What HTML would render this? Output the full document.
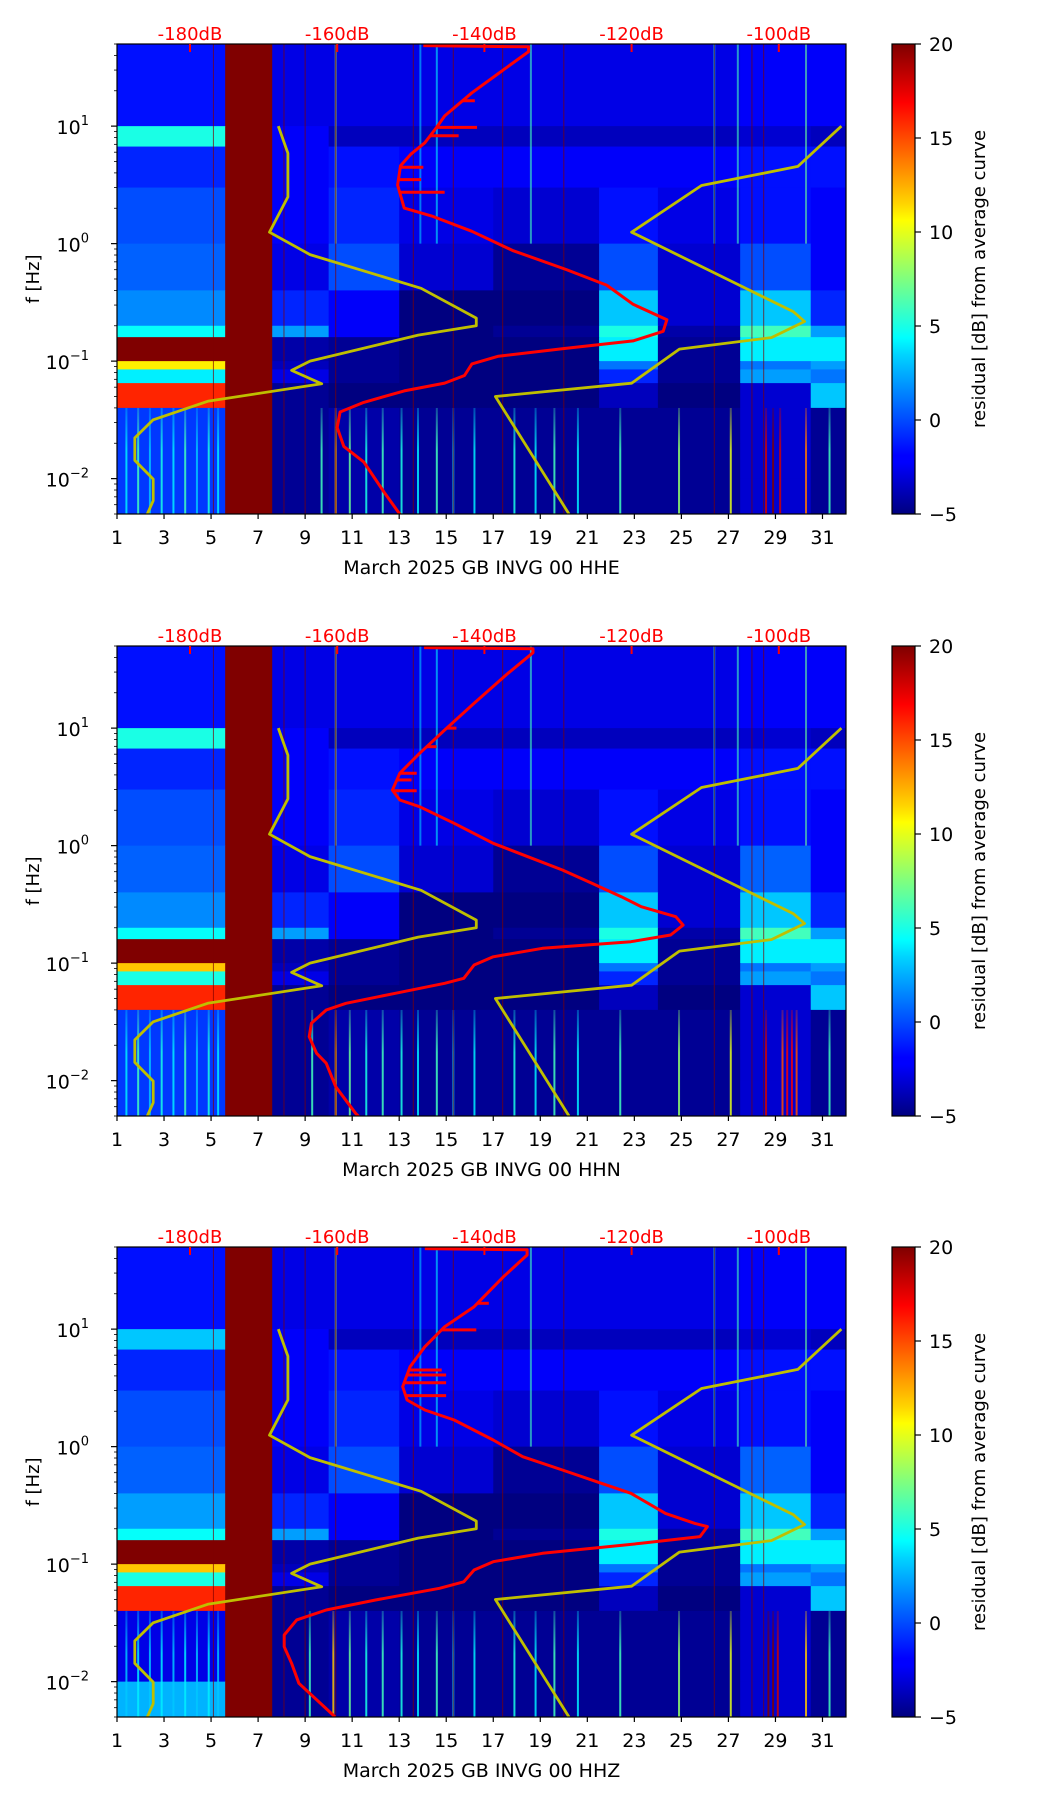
<!DOCTYPE html>
<html><head><meta charset="utf-8"><style>
html,body{margin:0;padding:0;background:#fff;}
svg text{font-family:"DejaVu Sans","Liberation Sans",sans-serif;}
</style></head><body>
<svg id="fig" width="1052" height="1806" viewBox="0 0 1052 1806" xmlns="http://www.w3.org/2000/svg">
<defs>
<linearGradient id="jetgrad" x1="0" y1="1" x2="0" y2="0">
<stop offset="0" stop-color="#00007f"/><stop offset="0.11" stop-color="#0000ff"/><stop offset="0.125" stop-color="#0000ff"/>
<stop offset="0.34" stop-color="#00d5ff"/><stop offset="0.375" stop-color="#00ffff"/><stop offset="0.5" stop-color="#7fff7f"/>
<stop offset="0.625" stop-color="#ffff00"/><stop offset="0.66" stop-color="#ffd500"/><stop offset="0.875" stop-color="#ff0000"/><stop offset="1" stop-color="#7f0000"/>
</linearGradient>
<linearGradient id="streakfade" x1="0" y1="0" x2="0" y2="1">
<stop offset="0" stop-color="#fff" stop-opacity="0.35"/><stop offset="0.4" stop-color="#fff" stop-opacity="1"/><stop offset="1" stop-color="#fff" stop-opacity="1"/>
</linearGradient>
</defs>
</svg>
<script>
// ---------- data ----------
const panelTitles = ["March 2025 GB INVG 00 HHE","March 2025 GB INVG 00 HHN","March 2025 GB INVG 00 HHZ"];
const rowEdgesHz = [50,10,6.7,3,1,0.4,0.2,0.16,0.1,0.085,0.065,0.04,0.02,0.01,0.005];
const colEdgesDay = [1,5.6,7.6,10,13,17,21.5,24,27.5,30.5,32];
const grid1 = [
[-1.5,20,-2.5,-2.5,-2.5,-2.5,-2.5,-2.5,-2,-2],
[5,20,-2,-3.5,-3.5,-3.5,-3.5,-3.5,-3,-3.5],
[-1,20,-2,-1.5,-2,-2,-2,-2,-1.5,-1.5],
[0,20,-2,-1,-2.5,-3,-1.5,-2.5,-1.5,-2],
[0.5,20,-2.5,0,-3,-4.5,0,-3,0,-2],
[1.5,20,-1,-2,-5,-5,3,-3,3,-1],
[4.5,20,2,-2,-5,-4.5,5,-4,6,2],
[20,20,-4,-4.5,-5,-5,4,-4.5,4,4],
[11,20,-3.5,-4.5,-5,-5,1,-4.5,1,2],
[4,20,-2.5,-4.5,-5,-5,-1,-4.5,2,1],
[16,20,-4.5,-5,-5,-5,-3.5,-5,-3,3],
[-0.5,20,-4.5,-4,-4.5,-4.5,-4.5,-4.5,-3,-4.5],
[-0.5,20,-4.5,-4,-4.5,-4.5,-4.5,-4.5,-3,-4.5],
[-0.5,20,-4.5,-4,-4.5,-4.5,-4.5,-4.5,-3,-4.5]];
const grid2 = [
[-1.5,20,-2.5,-2.5,-2.5,-2.5,-2.5,-2.5,-2,-2],
[5,20,-2,-3.5,-3.5,-3.5,-3.5,-3.5,-3,-3.5],
[-1,20,-2,-1.5,-2,-2,-2,-2,-1.5,-1.5],
[0,20,-2,-1,-2.5,-3,-1.5,-2.5,-1.5,-2],
[0.5,20,-2.5,0,-3,-4.5,0,-3,0.5,-2],
[1.5,20,-1,-2,-5,-5,3,-3,3,-1],
[4.5,20,2,-2,-5,-4.5,5,-4,6,2],
[20,20,-4,-4.5,-5,-5,4,-4.5,4,4],
[12,20,-3.5,-4.5,-5,-5,1,-4.5,1,2],
[5,20,-2.5,-4.5,-5,-5,-1,-4.5,2,1],
[16,20,-4.5,-5,-5,-5,-3.5,-5,-3,3],
[-0.5,20,-4.5,-4,-4.5,-4.5,-4.5,-4.5,-3,-4.5],
[-0.5,20,-4.5,-4,-4.5,-4.5,-4.5,-4.5,-3,-4.5],
[-0.5,20,-4.5,-4,-4.5,-4.5,-4.5,-4.5,-3,-4.5]];
const grid3 = [
[-1.5,20,-2.5,-2.5,-2.5,-2.5,-2.5,-2.5,-2,-2],
[3,20,-2,-3.5,-3.5,-3.5,-3.5,-3.5,-3,-3.5],
[-1,20,-2,-1.5,-2,-2,-2,-2,-1.5,-1.5],
[0,20,-2,-1,-2.5,-3,-1.5,-2.5,-1.5,-2],
[0.5,20,-2.5,0,-3,-4.5,0,-3,0.5,-2],
[2,20,-1,-2,-5,-5,3,-3,3,-1],
[4.5,20,2,-2,-5,-4.5,5,-4,6,2],
[20,20,-4,-4.5,-5,-5,4,-4.5,4,4],
[12,20,-3.5,-4.5,-5,-5,1,-4.5,1,2],
[5,20,-2.5,-4.5,-5,-5,-1,-4.5,2,1],
[16,20,-4.5,-5,-5,-5,-3.5,-5,-3,3],
[-2.5,20,-4.5,-4,-4.5,-4.5,-4.5,-4.5,-3,-4.5],
[-2.5,20,-4.5,-4,-4.5,-4.5,-4.5,-4.5,-3,-4.5],
[2.5,20,-4.5,-4,-4.5,-4.5,-4.5,-4.5,-3,-4.5]];
const lowDays1 = [1.4,1.9,2.4,2.9,3.4,3.9,4.4,4.9,5.3,9.7,10.3,10.9,11.6,12.3,13.1,13.8,14.6,15.3,16.2,17.9,18.8,19.6,20.6,22.4,24.9,27.1,28.6,28.9,29.2,30.3,31.3];
const lowVals1 = [4,6,3,5,4,6,3,5,4,6,12,7,5,6,5,4,6,3,4,5,4,6,4,6,8,10,18,20,18,14,6];
const lowDays2 = [1.4,1.9,2.4,2.9,3.4,3.9,4.4,4.9,5.3,9.3,10.3,10.9,11.6,12.3,13.1,13.8,14.6,15.3,16.2,17.9,18.8,19.6,20.6,22.4,24.9,27.1,28.6,29.3,29.5,29.7,29.9,31.3];
const lowVals2 = [4,6,3,5,4,6,3,5,4,6,12,7,5,6,5,4,6,3,4,5,4,6,4,6,8,10,18,15,17,17,15,6];
const lowDays3 = [1.4,1.9,2.4,2.9,3.4,3.9,4.4,4.9,5.3,9.2,10.2,10.9,11.6,12.3,13.1,13.8,14.6,15.3,16.2,17.9,18.8,19.6,20.6,22.4,24.9,27.1,28.7,28.9,29.1,30.3,31.3];
const lowVals3 = [3,4,3,4,3,4,3,4,3,6,12,7,5,6,5,4,6,3,4,5,4,6,4,6,8,10,20,20,18,12,6];
const highDays = [10.3,13.9,14.6,18.6,26.4,27.4,30.3];
const highVals = [8,3,4,6,4,6,7];
const thinDays = [5.1,8.1,9.0,10.3,13.6,15.3,17.4,20.0,26.4,28.0,28.5];
const dbTicks = [-180,-160,-140,-120,-100];
const dayTicks = [1,3,5,7,9,11,13,15,17,19,21,23,25,27,29,31];
const cbTicks = [-5,0,5,10,15,20];
// Peterson noise models (period s, dB)
const nlnmP = [0.1,0.17,0.4,0.8,1.24,2.4,4.3,5,6,10,12,15.6,21.9,31.6,45,70,101,154,200];
const nlnmDb = [-168.0,-166.7,-166.7,-169.2,-163.7,-148.6,-141.1,-141.1,-149.0,-163.7,-166.2,-162.1,-177.5,-185.0,-187.5,-187.5,-185.0,-185.0,-185.8];
const nhnmP = [0.1,0.22,0.32,0.8,3.8,4.6,6.3,7.9,15.4,20,200];
const nhnmDb = [-91.5,-97.4,-110.5,-120.0,-98.0,-96.5,-101.0,-113.5,-120.0,-138.5,-128.5];
// average PSD curves: dB and log10(f)
const red1Db = [-148.3,-134.0,-134.0,-138.1,-141.7,-145.4,-146.5,-148.1,-150.0,-151.4,-151.8,-150.9,-147.2,-141.7,-136.2,-128.9,-123.4,-119.8,-115.2,-115.7,-119.8,-129.0,-138.1,-141.7,-142.7,-145.4,-150.9,-156.4,-159.6,-160.0,-159.1,-156.4,-153.6,-151.4];
const red1LogF = [1.685,1.675,1.634,1.448,1.284,1.087,0.989,0.858,0.761,0.662,0.498,0.302,0.236,0.105,-0.058,-0.22,-0.353,-0.516,-0.647,-0.746,-0.828,-0.892,-0.958,-1.024,-1.122,-1.187,-1.253,-1.351,-1.433,-1.565,-1.726,-1.858,-2.118,-2.31];
const red2Db = [-148.2,-133.4,-133.4,-136.8,-141.4,-145.4,-148.8,-151.5,-152.5,-151.5,-148.8,-144.1,-138.8,-134.1,-129.4,-125.4,-121.4,-118.7,-114.0,-113.0,-114.7,-120.1,-132.1,-138.8,-141.4,-142.8,-145.4,-152.1,-158.8,-161.5,-163.5,-163.8,-162.8,-161.5,-160.2,-157.5,-157.0];
const red2LogF = [1.685,1.675,1.642,1.467,1.211,0.984,0.786,0.616,0.473,0.388,0.331,0.190,0.020,-0.094,-0.207,-0.321,-0.435,-0.520,-0.605,-0.676,-0.761,-0.818,-0.874,-0.946,-1.016,-1.129,-1.172,-1.257,-1.342,-1.399,-1.512,-1.626,-1.767,-1.852,-2.052,-2.278,-2.31];
const red3Db = [-148.1,-134.2,-134.2,-137.4,-141.4,-145.4,-148.1,-150.1,-151.1,-150.5,-148.1,-144.1,-138.8,-134.8,-129.4,-124.1,-120.1,-115.4,-111.4,-109.7,-110.7,-118.7,-132.1,-138.8,-141.4,-142.8,-146.1,-154.8,-161.5,-165.5,-167.2,-167.2,-166.2,-165.2,-160.8,-160.3];
const red3LogF = [1.685,1.675,1.631,1.446,1.191,1.021,0.850,0.680,0.510,0.397,0.312,0.227,0.056,-0.086,-0.199,-0.312,-0.397,-0.568,-0.653,-0.681,-0.766,-0.823,-0.908,-0.979,-1.050,-1.150,-1.206,-1.305,-1.390,-1.475,-1.603,-1.703,-1.844,-2.014,-2.270,-2.30];
const spike1Db = [-141.3,-141.0,-143.5,-148.3,-148.6,-145.4];
const spike1LogF = [1.216,0.989,0.918,0.650,0.545,0.437];
const spike2Db = [-143.8,-146.5,-149.2,-149.9,-149.2];
const spike2LogF = [1.0,0.842,0.616,0.559,0.467];
const spike3Db = [-139.4,-141.1,-145.8,-145.2,-145.2,-145.2];
const spike3LogF = [1.22,0.994,0.652,0.610,0.544,0.434];

// ---------- layout ----------
const AX_L = 117, AX_R = 846, AX_H = 470;
const TOPS = [44, 646, 1247];
const CB_L = 892, CB_W = 23;
const DAY0 = 1, DAY1 = 32, LOGF_TOP = Math.log10(50), LOGF_BOT = Math.log10(0.005);
const xDay = d => AX_L + (d - DAY0) / (DAY1 - DAY0) * (AX_R - AX_L);
const xDb = db => 190 + (db + 180) * 7.36;
const yLog = (lf, top) => top + (LOGF_TOP - lf) / (LOGF_TOP - LOGF_BOT) * AX_H;
const yF = (f, top) => yLog(Math.log10(f), top);
const cl = v => Math.max(0, Math.min(1, v));
function jet(v){
  const t = cl((v + 5) / 25);
  const r = cl(Math.min(4*t-1.5, -4*t+4.5)), g = cl(Math.min(4*t-0.5, -4*t+3.5)), b = cl(Math.min(4*t+0.5, -4*t+2.5));
  return `rgb(${Math.round(r*255)},${Math.round(g*255)},${Math.round(b*255)})`;
}
const NS = "http://www.w3.org/2000/svg";
const svg = document.getElementById('fig');
function el(tag, attrs, parent){
  const e = document.createElementNS(NS, tag);
  for (const k in attrs) e.setAttribute(k, attrs[k]);
  (parent || svg).appendChild(e);
  return e;
}
function txt(s, attrs, parent){ const t = el('text', attrs, parent); t.textContent = s; return t; }
function interpDb(xsLog, ysDb, lf){
  for (let i = 0; i < xsLog.length - 1; i++){
    const a = xsLog[i], b = xsLog[i+1];
    if ((lf <= a && lf >= b) || (lf >= a && lf <= b)){
      const t = (a === b) ? 0 : (lf - a) / (b - a);
      return ysDb[i] + t * (ysDb[i+1] - ysDb[i]);
    }
  }
  return ysDb[ysDb.length - 1];
}

const grids = [grid1, grid2, grid3];
const lowDays = [lowDays1, lowDays2, lowDays3];
const lowVals = [lowVals1, lowVals2, lowVals3];
const redDb = [red1Db, red2Db, red3Db];
const redLogF = [red1LogF, red2LogF, red3LogF];
const spikeDb = [spike1Db, spike2Db, spike3Db];
const spikeLogF = [spike1LogF, spike2LogF, spike3LogF];

TOPS.forEach((top, p) => {
  const bot = top + AX_H;
  const panel = el('g', {});
  
  
  const clip = el('clipPath', {id: 'clip' + p});
  el('rect', {x: AX_L, y: top, width: AX_R - AX_L, height: AX_H}, clip);
  const mask = el('mask', {id: 'fade' + p, maskUnits: 'userSpaceOnUse', x: 0, y: 0, width: 1052, height: 1806});
  el('rect', {x: AX_L, y: yF(0.04, top), width: AX_R - AX_L, height: yF(0.005, top) - yF(0.04, top), fill: 'url(#streakfade)'}, mask);
  const heat = el('g', {'clip-path': `url(#clip${p})`}, panel);
  
  
  const g = grids[p];
  for (let r = 0; r < rowEdgesHz.length - 1; r++){
    for (let c = 0; c < colEdgesDay.length - 1; c++){
      const x0 = xDay(colEdgesDay[c]), x1 = xDay(colEdgesDay[c+1]);
      const y0 = yF(rowEdgesHz[r], top), y1 = yF(rowEdgesHz[r+1], top);
      const cell = el('rect', {x: x0, y: y0, width: x1 - x0 + 0.5, height: y1 - y0 + 0.5, fill: jet(g[r][c])}, heat);
      
      
    }
  }
  const lowG = el('g', {mask: `url(#fade${p})`, opacity: 0.85}, heat);
  lowDays[p].forEach((d, i) => {
    const s = el('rect', {x: xDay(d) - 1, y: yF(0.04, top), width: 2, height: yF(0.005, top) - yF(0.04, top), fill: jet(lowVals[p][i])}, lowG);
    
    
  });
  highDays.forEach((d, i) => {
    const s = el('rect', {x: xDay(d) - 1, y: top, width: 2, height: yF(1, top) - top, fill: jet(highVals[i]), opacity: 0.6}, heat);
    
    
  });
  thinDays.forEach(d => {
    const s = el('rect', {x: xDay(d) - 0.5, y: top, width: 1, height: AX_H, fill: '#7f0000', opacity: 0.7}, heat);
    
    
  });
  // noise models
  const lines = el('g', {'clip-path': `url(#clip${p})`, fill: 'none', 'stroke-linejoin': 'round'}, panel);
  const mkPath = (P, D) => P.map((per, i) => (i ? 'L' : 'M') + xDb(D[i]).toFixed(1) + ',' + yF(1/per, top).toFixed(1)).join(' ');
  const l1 = el('path', {d: mkPath(nlnmP, nlnmDb), stroke: '#bfbf00', 'stroke-width': 2.8}, lines);
  
  
  const l2 = el('path', {d: mkPath(nhnmP, nhnmDb), stroke: '#bfbf00', 'stroke-width': 2.8}, lines);
  
  
  // red average psd
  const rd = redDb[p].map((db, i) => (i ? 'L' : 'M') + xDb(db).toFixed(1) + ',' + yLog(redLogF[p][i], top).toFixed(1)).join(' ');
  const rl = el('path', {d: rd, stroke: '#ff0000', 'stroke-width': 3}, lines);
  
  
  spikeDb[p].forEach((db, i) => {
    const lf = spikeLogF[p][i];
    const base = interpDb(redLogF[p].slice(2), redDb[p].slice(2), lf);
    const s = el('line', {x1: xDb(base), x2: xDb(db), y1: yLog(lf, top), y2: yLog(lf, top), stroke: '#ff0000', 'stroke-width': 3}, lines);
    
    
  });
  // frame
  const fr = el('rect', {x: AX_L, y: top, width: AX_R - AX_L, height: AX_H, fill: 'none', stroke: '#000', 'stroke-width': 1.2}, panel);
  
  
  // top dB axis
  dbTicks.forEach(db => {
    const x = xDb(db);
    el('line', {x1: x, x2: x, y1: top, y2: top + 8, stroke: '#ff0000', 'stroke-width': 2}, panel);
    const t = txt(db + 'dB', {x: x, y: top - 4, 'font-size': 18, fill: '#ff0000', 'text-anchor': 'middle'}, panel);
    
    
  });
  // bottom day axis
  dayTicks.forEach(d => {
    const x = xDay(d);
    el('line', {x1: x, x2: x, y1: bot, y2: bot + 5, stroke: '#000', 'stroke-width': 1.2}, panel);
    const t = txt(String(d), {x: x, y: bot + 30, 'font-size': 19, fill: '#000', 'text-anchor': 'middle'}, panel);
    
    
  });
  const xl = txt(panelTitles[p], {x: (AX_L + AX_R) / 2, y: bot + 60, 'font-size': 19, fill: '#000', 'text-anchor': 'middle'}, panel);
  
  
  // y axis
  for (let e = -3; e <= 1; e++){
    for (let k = 1; k <= 9; k++){
      const f = k * Math.pow(10, e);
      if (f < 0.005 - 1e-9 || f > 50 + 1e-9) continue;
      const y = yF(f, top);
      el('line', {x1: AX_L - (k === 1 ? 6 : 3), x2: AX_L, y1: y, y2: y, stroke: '#000', 'stroke-width': k === 1 ? 1.2 : 0.8}, panel);
      if (k === 1){
        const t = txt('10', {x: AX_L - 28, y: y + 8, 'font-size': 19, fill: '#000', 'text-anchor': 'end'}, panel);
        
        
        const ts = el('tspan', {'font-size': 13, dy: -9}, t);
        ts.textContent = (e < 0 ? '\u2212' : '') + Math.abs(e);
      }
    }
  }
  const yl = txt('f [Hz]', {x: 0, y: 0, 'font-size': 18, fill: '#000', 'text-anchor': 'middle', transform: `translate(39,${top + AX_H/2}) rotate(-90)`}, panel);
  
  
  // colorbar
  const cb = el('g', {}, panel);
  
  
  el('rect', {x: CB_L, y: top, width: CB_W, height: AX_H, fill: 'url(#jetgrad)', stroke: '#000', 'stroke-width': 1.2}, cb);
  cbTicks.forEach(v => {
    const y = bot - (v + 5) / 25 * AX_H;
    el('line', {x1: CB_L + CB_W, x2: CB_L + CB_W + 6, y1: y, y2: y, stroke: '#000', 'stroke-width': 1.2}, cb);
    const t = txt((v < 0 ? '\u2212' : '') + Math.abs(v), {x: CB_L + CB_W + 14, y: y + 7, 'font-size': 19, fill: '#000'}, cb);
    
    
  });
  const cl2 = txt('residual [dB] from average curve', {x: 0, y: 0, 'font-size': 18, fill: '#000', 'text-anchor': 'middle', transform: `translate(985,${top + AX_H/2}) rotate(-90)`}, cb);
  
  
});
</script>
</body></html>
